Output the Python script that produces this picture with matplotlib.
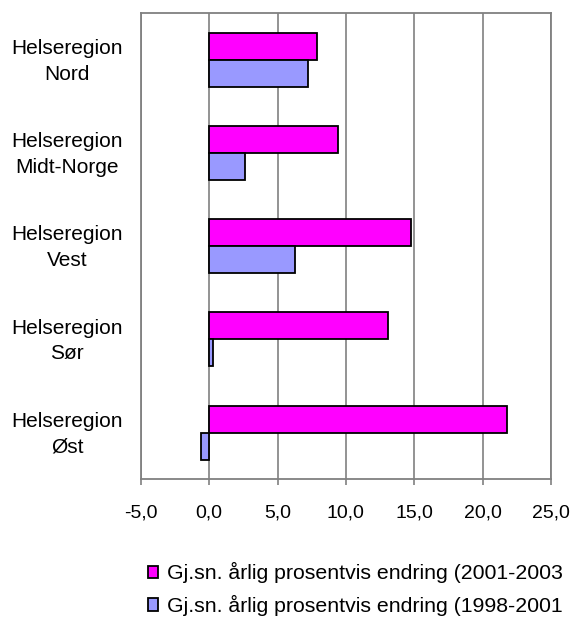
import numpy as np
import matplotlib.pyplot as plt

plt.rcParams['font.family'] = ['Liberation Sans', 'DejaVu Sans']

regions = ['Helseregion\nNord', 'Helseregion\nMidt-Norge', 'Helseregion\nVest',
           'Helseregion\nSør', 'Helseregion\nØst']
change_2001_2003 = [7.9, 9.4, 14.8, 13.1, 21.8]
change_1998_2001 = [7.2, 2.6, 6.3, 0.3, -0.6]
labels = ['Gj.sn. årlig prosentvis endring (2001-2003',
          'Gj.sn. årlig prosentvis endring (1998-2001']
xticks = [-5, 0, 5, 10, 15, 20, 25]

fig = plt.figure(figsize=(5.75, 6.24), dpi=100)
ax = fig.add_axes([0.245, 0.232, 0.713, 0.747])

y = np.arange(len(regions))[::-1]
h = 0.29
b1 = ax.barh(y + h / 2, change_2001_2003, height=h, color='#FF00FF',
             edgecolor='black', linewidth=1.3, label=labels[0], zorder=3)
b2 = ax.barh(y - h / 2, change_1998_2001, height=h, color='#9999FF',
             edgecolor='black', linewidth=1.3, label=labels[1], zorder=3)

ax.set_xlim(-5, 25)
ax.set_ylim(-0.5, 4.5)
ax.set_xticks(xticks)
ax.set_xticklabels([('%.1f' % v).replace('.', ',') for v in xticks], fontsize=14)
ax.set_yticks(y + 0.04)
ax.set_yticklabels(regions, fontsize=15, ha='center', linespacing=1.45)
ax.tick_params(axis='y', length=0, pad=53)
ax.tick_params(axis='x', length=4, color='#808080', width=1.2, pad=14)
ax.grid(axis='x', color='#808080', linewidth=1.2, zorder=0)
for s in ['top', 'right', 'left', 'bottom']:
    ax.spines[s].set_color('#808080')
    ax.spines[s].set_linewidth(1.3)

fig.legend(handles=[b1, b2], labels=labels, loc='upper left',
           bbox_to_anchor=(0.257, 0.099), frameon=False, fontsize=15.3,
           handlelength=0.5, handleheight=0.5, handletextpad=0.4,
           labelspacing=0.55, borderaxespad=0, borderpad=0)

fig.savefig('out.png', dpi=100)
